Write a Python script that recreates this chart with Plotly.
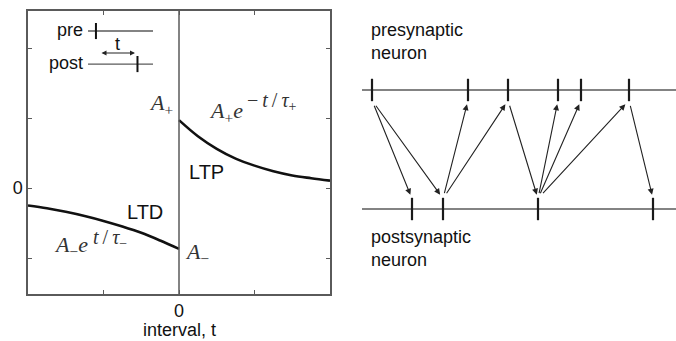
import plotly.graph_objects as go

# ---- STDP window (left panel) ----
ltp_t = [0.0, 0.25, 0.5, 0.75, 1.0, 1.25, 1.5, 1.75, 2.0]
ltp_w = [0.97, 0.74, 0.56, 0.42, 0.32, 0.24, 0.18, 0.14, 0.105]
ltd_t = [-2.0, -1.75, -1.5, -1.25, -1.0, -0.75, -0.5, -0.25, 0.0]
ltd_w = [-0.25, -0.29, -0.34, -0.40, -0.47, -0.55, -0.64, -0.75, -0.87]

x_ticks = [-1, 0, 1]
x_ticktext = ["", "0", ""]
y_ticks = [-1, 0, 1, 2]
y_ticktext = ["", "0", "", ""]

# schematic of the pre/post spike pair used to define the interval t
inset_line = [-1.205, -0.344]
inset_pre_spike = -1.10
inset_post_spike = -0.55
inset_pre_y = 2.243
inset_post_y = 1.771

# ---- spike trains (right panel) ----
pre_spikes = [1.0, 10.6, 14.6, 19.6, 21.9, 26.7]
post_spikes = [5.0, 8.1, 17.6, 29.1]
train_extent = [0.0, 31.4]
# (pre index, post index) pairs: pre spike preceding post spike
pre_to_post = [(0, 0), (0, 1), (2, 2), (5, 3)]
# (post index, pre index) pairs: post spike preceding pre spike
post_to_pre = [(1, 1), (1, 2), (2, 3), (2, 4), (2, 5)]

AX = "#5a5a5a"
INK = "#111111"
MATH = "#333333"
SANS = "Liberation Sans, Arial, sans-serif"
SERIF = "Liberation Serif, Times New Roman, serif"
THIN = "\u2009"

fig = go.Figure()

# STDP curves
fig.add_trace(go.Scatter(x=ltp_t, y=ltp_w, mode="lines", line=dict(color=INK, width=2.6, shape="spline"),
                         xaxis="x", yaxis="y", hoverinfo="skip"))
fig.add_trace(go.Scatter(x=ltd_t, y=ltd_w, mode="lines", line=dict(color=INK, width=2.6, shape="spline"),
                         xaxis="x", yaxis="y", hoverinfo="skip"))
# zero-interval divider
fig.add_trace(go.Scatter(x=[0, 0], y=[-1.6, 2.6], mode="lines", line=dict(color=AX, width=1.5),
                         xaxis="x", yaxis="y", hoverinfo="skip"))

# inset: pre and post lines with spikes
for yv, sp in [(inset_pre_y, inset_pre_spike), (inset_post_y, inset_post_spike)]:
    fig.add_trace(go.Scatter(x=inset_line, y=[yv, yv], mode="lines", line=dict(color=AX, width=1.3),
                             xaxis="x", yaxis="y", hoverinfo="skip"))
    fig.add_trace(go.Scatter(x=[sp, sp], y=[yv - 0.115, yv + 0.115], mode="lines",
                             line=dict(color=INK, width=2), xaxis="x", yaxis="y", hoverinfo="skip"))

# spike train baselines
for yv in [1, 0]:
    fig.add_trace(go.Scatter(x=train_extent, y=[yv, yv], mode="lines", line=dict(color=AX, width=1.5),
                             xaxis="x2", yaxis="y2", hoverinfo="skip"))
# spike ticks
for spikes, yv in [(pre_spikes, 1), (post_spikes, 0)]:
    fig.add_trace(go.Scatter(x=spikes, y=[yv] * len(spikes), mode="markers",
                             marker=dict(symbol="line-ns-open", size=16, color="#1a1a1a",
                                         line=dict(color="#1a1a1a", width=2.2)),
                             xaxis="x2", yaxis="y2", hoverinfo="skip"))

annotations = []

# arrows between spikes, stopping short of each train
gap = 0.12
shift = 0.04


def spike_arrow(x_from, y_from, x_to, y_to):
    dx = x_to - x_from
    y0 = y_from - gap if y_from == 1 else y_from + gap
    y1 = y_to - gap if y_to == 1 else y_to + gap
    annotations.append(dict(
        x=x_to - shift * dx, y=y1, ax=x_from + shift * dx, ay=y0,
        xref="x2", yref="y2", axref="x2", ayref="y2",
        showarrow=True, arrowhead=2, arrowsize=1.1, arrowwidth=1.1, arrowcolor="#222222", text=""))


for i, j in pre_to_post:
    spike_arrow(pre_spikes[i], 1, post_spikes[j], 0)
for j, i in post_to_pre:
    spike_arrow(post_spikes[j], 0, pre_spikes[i], 1)

# double-headed interval arrow in the inset
annotations.append(dict(x=-0.583, y=1.93, ax=-1.046, ay=1.93, xref="x", yref="y", axref="x", ayref="y",
                        showarrow=True, arrowhead=2, startarrowhead=2, arrowside="end+start",
                        arrowsize=0.9, arrowwidth=1.1, arrowcolor="#222222", text=""))


def label(text, x, y, xanchor="left", size=18, font=SANS, color=INK, xref="x", yref="y", align="left"):
    annotations.append(dict(text=text, x=x, y=y, xref=xref, yref=yref, xanchor=xanchor, yanchor="middle",
                            align=align, showarrow=False, font=dict(family=font, size=size, color=color)))


label("pre", -1.245, 2.257, xanchor="right")
label("post", -1.245, 1.786, xanchor="right")
label("t", -0.82, 2.06, xanchor="center")
label("LTP", 0.10, 0.23, size=20)
label("LTD", -0.71, -0.34, size=20)

# weight-change expressions: base and exponent set as separate pieces
label("<i>A</i><sub>+</sub>", -0.05, 1.2, xanchor="right", size=22, font=SERIF, color=MATH)
label("<i>A</i><sub>+</sub><i>e</i>", 0.371, 1.08, size=22, font=SERIF, color=MATH)
label("−" + THIN + "<i>t</i>" + THIN + "/" + THIN + "<i>τ</i><sub>+</sub>", 0.87, 1.24,
      size=20, font=SERIF, color=MATH)
label("<i>A</i><sub>−</sub><i>e</i>", -1.682, -0.83, size=22, font=SERIF, color=MATH)
label("<i>t</i>" + THIN + "/" + THIN + "<i>τ</i><sub>−</sub>", -1.16, -0.72,
      size=20, font=SERIF, color=MATH)
label("<i>A</i><sub>−</sub>", 0.05, -0.93, size=22, font=SERIF, color=MATH)

label("presynaptic<br>neuron", 0.7, 1.41, size=18, xref="x2", yref="y2")
label("postsynaptic<br>neuron", 0.7, -0.33, size=18, xref="x2", yref="y2")

W, H = 676, 341
label("interval, t", 0.0, (H - 330) / H, xanchor="center", yref="paper")

axis_common = dict(showline=True, mirror="ticks", linecolor=AX, linewidth=1.5, ticks="inside",
                   ticklen=4, tickcolor=AX, tickwidth=1, showgrid=False, zeroline=False,
                   tickfont=dict(family=SANS, size=18, color=INK))

fig.update_layout(
    width=W, height=H, margin=dict(l=0, r=0, t=0, b=0),
    paper_bgcolor="white", plot_bgcolor="white", showlegend=False,
    xaxis=dict(domain=[28 / W, 330 / W], range=[-2, 2], tickvals=x_ticks, ticktext=x_ticktext, **axis_common),
    yaxis=dict(domain=[(H - 294) / H, (H - 11) / H], range=[-1.514, 2.529], tickvals=y_ticks,
               ticktext=y_ticktext, **axis_common),
    xaxis2=dict(domain=[340 / W, 1.0], range=[-2.2, 31.4], visible=False),
    yaxis2=dict(domain=[0, 1], range=[-1.109, 1.756], visible=False),
    annotations=annotations,
)

fig.write_html("out.html")
